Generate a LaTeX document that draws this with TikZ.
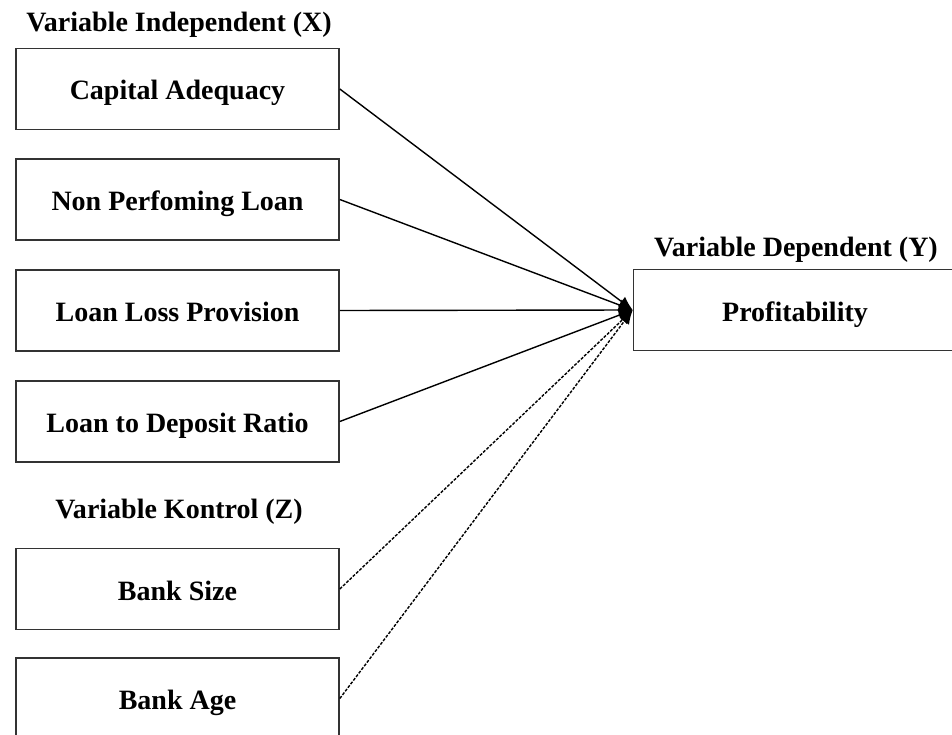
\documentclass[tikz,border=0pt]{standalone}
\usepackage{fontspec}
\setmainfont{Liberation Serif}
\usepackage{tikz}
\usetikzlibrary{arrows.meta,positioning}

\begin{document}
\begin{tikzpicture}[x=1pt, y=-1pt,
    varbox/.style={draw=black!80, line width=1.6pt, minimum width=323pt, minimum height=81pt,
        inner sep=0pt, text height=28pt, text depth=6pt,
        font=\fontsize{28}{32}\selectfont\bfseries},
    grouplabel/.style={inner sep=0pt, font=\fontsize{28}{32}\selectfont\bfseries},
    link/.style={line width=1.4pt, -{Latex[length=14pt,width=12pt]}},
    ctrl/.style={line width=1.4pt, dash pattern=on 3pt off 1.5pt, -{Latex[length=14pt,width=12pt]}}]
    \useasboundingbox (0,0) rectangle (952,735);

    \node[grouplabel] (lx) at (179, 25) {Variable Independent (X)};
    \node[varbox] (car) at (177.5, 89) {Capital Adequacy};
    \node[varbox] (npl) at (177.5, 199.5) {Non Perfoming Loan};
    \node[varbox] (llp) at (177.5, 310.5) {Loan Loss Provision};
    \node[varbox] (ldr) at (177.5, 421.5) {Loan to Deposit Ratio};

    \node[grouplabel] (lz) at (179, 512) {Variable Kontrol (Z)};
    \node[varbox] (size) at (177.5, 589) {Bank Size};
    \node[varbox] (age) at (177.5, 698.5) {Bank Age};

    \node[grouplabel] (ly) at (796, 250) {Variable Dependent (Y)};
    \node[varbox] (prof) at (795, 310) {Profitability};

    \path
        (car.east) edge[link] (prof.west)
        (npl.east) edge[link] (prof.west)
        (llp.east) edge[link] (prof.west)
        (ldr.east) edge[link] (prof.west)
        (size.east) edge[ctrl] (prof.west)
        (age.east) edge[ctrl] (prof.west);
\end{tikzpicture}
\end{document}
